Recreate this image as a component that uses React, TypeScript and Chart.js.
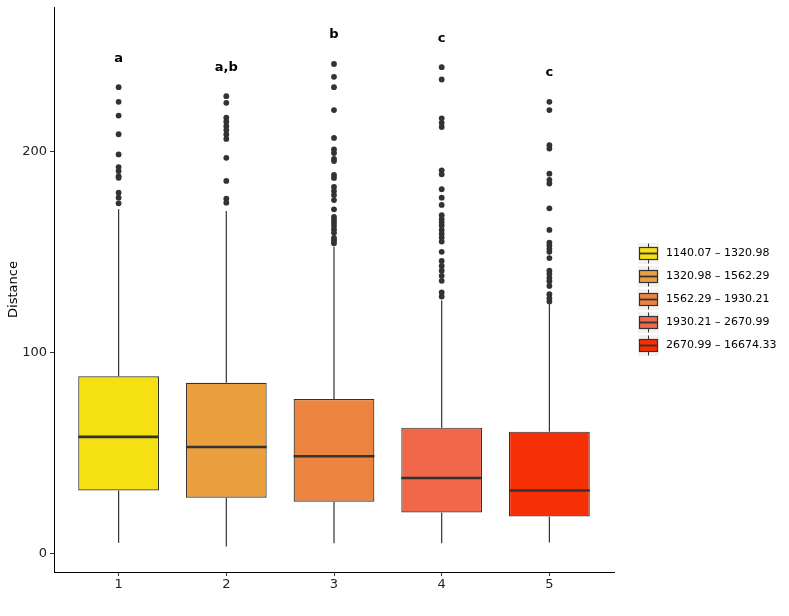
import { useEffect, useRef } from "react"
import { Chart, type ChartConfiguration, type Plugin, registerables } from "chart.js"

Chart.register(...registerables)

const groups = [1, 2, 3, 4, 5]
const q1 = [31.5, 27.9, 25.9, 20.6, 18.6]
const medians = [58.1, 53.1, 48.5, 37.7, 31.5]
const q3 = [88.2, 85.0, 76.9, 62.7, 60.7]
const whiskerLow = [5.5, 3.7, 5.3, 5.3, 5.7]
const whiskerHigh = [171.2, 170.3, 152.6, 125.8, 124.0]

const outliers1 = [231.8, 224.5, 217.7, 208.4, 198.4, 192.1, 190.1, 187.6, 186.8, 179.4, 176.9, 174.1]
const outliers2 = [227.3, 224.0, 216.6, 214.6, 212.4, 210.5, 208.3, 206.1, 196.7, 185.2, 176.4, 174.4]
const outliers3 = [
  243.3, 236.9, 231.8, 220.4, 206.6, 200.9, 199.1, 196.2, 195.1, 188.2, 186.7, 182.2, 180.2, 178.2, 175.7,
  171.1, 167.3, 165.8, 164.4, 162.9, 161.2, 159.5, 156.9, 155.8, 154.3,
]
const outliers4 = [
  241.7, 235.6, 216.3, 214.1, 212.0, 190.5, 188.5, 181.1, 176.9, 173.3, 168.2, 166.3, 164.8, 163.1, 160.9,
  158.9, 157.1, 155.1, 150.0, 145.5, 143.0, 140.6, 138.1, 135.6, 129.8, 127.8,
]
const outliers5 = [
  224.5, 220.4, 203.0, 201.3, 188.8, 185.7, 183.9, 171.6, 160.9, 154.6, 153.2, 151.5, 150.0, 146.9, 140.6,
  139.1, 137.1, 135.4, 133.1, 129.0, 127.0, 125.3,
]
const outliers = [outliers1, outliers2, outliers3, outliers4, outliers5]

const letters = ["a", "a,b", "b", "c", "c"]
const letterY = [246.2, 241.7, 258.1, 256.1, 239.2]

const legendLabels = [
  "1140.07 – 1320.98",
  "1320.98 – 1562.29",
  "1562.29 – 1930.21",
  "1930.21 – 2670.99",
  "2670.99 – 16674.33",
]
const boxColors = ["#F5E014", "#EB9F3E", "#EC843F", "#F1674A", "#F72F04"]

const yTicks = [0, 100, 200]
const FONT = "'DejaVu Sans', sans-serif"

const boxPlugin: Plugin = {
  id: "boxExtras",
  afterDatasetsDraw(chart) {
    const { ctx, scales } = chart
    const x = scales.x
    const y = scales.y
    const halfW = x.getPixelForValue(1.375) - x.getPixelForValue(1)
    ctx.save()
    groups.forEach((g, i) => {
      const cx = x.getPixelForValue(g)
      // whiskers
      ctx.strokeStyle = "#333333"
      ctx.lineWidth = 1.2
      ctx.beginPath()
      ctx.moveTo(cx, y.getPixelForValue(q3[i]))
      ctx.lineTo(cx, y.getPixelForValue(whiskerHigh[i]))
      ctx.moveTo(cx, y.getPixelForValue(q1[i]))
      ctx.lineTo(cx, y.getPixelForValue(whiskerLow[i]))
      ctx.stroke()

      // median
      ctx.lineWidth = 2.6
      ctx.beginPath()
      const my = y.getPixelForValue(medians[i])
      ctx.moveTo(cx - halfW, my)
      ctx.lineTo(cx + halfW, my)
      ctx.stroke()

      ctx.fillStyle = "#000000"
      ctx.font = `bold 13px ${FONT}`
      ctx.textAlign = "center"
      ctx.textBaseline = "middle"
      ctx.fillText(letters[i], cx, y.getPixelForValue(letterY[i]))
    })
    ctx.restore()
  },
  afterDraw(chart) {
    const { ctx } = chart
    const keyX = 638
    const firstY = 253.5
    const step = 23
    ctx.save()
    legendLabels.forEach((label, i) => {
      const cy = firstY + i * step
      ctx.fillStyle = "#F2F2F2"
      ctx.fillRect(keyX, cy - 10.5, 21, 21)
      ctx.strokeStyle = "#333333"
      ctx.lineWidth = 1
      ctx.beginPath()
      ctx.moveTo(keyX + 10.5, cy - 10)
      ctx.lineTo(keyX + 10.5, cy + 10)
      ctx.stroke()
      ctx.fillStyle = boxColors[i]
      ctx.fillRect(keyX + 1.5, cy - 6, 18, 12)
      ctx.lineWidth = 1.2
      ctx.strokeRect(keyX + 1.5, cy - 6, 18, 12)
      ctx.lineWidth = 1.8
      ctx.beginPath()
      ctx.moveTo(keyX + 1.5, cy)
      ctx.lineTo(keyX + 19.5, cy)
      ctx.stroke()
      ctx.fillStyle = "#000000"
      ctx.font = `11px ${FONT}`
      ctx.textAlign = "left"
      ctx.textBaseline = "middle"
      ctx.fillText(label, 666, cy)
    })
    ctx.restore()
  },
}

export default function App() {
  const chartRef = useRef<HTMLCanvasElement>(null)
  const chartInstance = useRef<Chart | null>(null)

  useEffect(() => {
    if (!chartRef.current) return
    const ctx = chartRef.current.getContext("2d")
    if (!ctx) return
    if (chartInstance.current) chartInstance.current.destroy()

    const outlierPoints = outliers.flatMap((vals, i) => vals.map((v) => ({ x: groups[i], y: v })))

    const config: ChartConfiguration = {
      type: "bar",
      data: {
        datasets: [
          {
            type: "scatter",
            data: outlierPoints,
            pointRadius: 2.9,
            pointBackgroundColor: "#333333",
            pointBorderWidth: 0,
            order: 0,
          } as any,
          {
            type: "bar",
            data: groups.map((g, i) => ({ x: g, y: [q1[i], q3[i]] })),
            backgroundColor: boxColors,
            borderColor: "#333333",
            borderWidth: 1.2,
            borderSkipped: false,
            barPercentage: 0.75,
            categoryPercentage: 1,
            order: 1,
          } as any,
        ],
      },
      options: {
        responsive: true,
        maintainAspectRatio: false,
        animation: false,
        layout: { padding: { top: 7, right: 175, left: 0, bottom: 0 } },
        plugins: {
          legend: { display: false },
          tooltip: { enabled: false },
        },
        scales: {
          x: {
            type: "linear",
            min: 0.4,
            max: 5.6,
            offset: false,
            afterBuildTicks: (scale) => {
              scale.ticks = groups.map((v) => ({ value: v }))
            },
            afterFit: (scale: any) => {
              scale.height = 44
              scale.paddingLeft = 0
              scale.paddingRight = 0
            },
            grid: { display: true, drawOnChartArea: false, offset: false, tickLength: 4, color: "#333333" },
            border: { display: true, color: "#000000", width: 1 },
            ticks: { color: "#222222", font: { family: FONT, size: 13 }, padding: 1, maxRotation: 0 },
          },
          y: {
            type: "linear",
            min: -9.0,
            max: 271.6,
            afterBuildTicks: (scale) => {
              scale.ticks = yTicks.map((v) => ({ value: v }))
            },
            afterFit: (scale: any) => {
              scale.width = 54
              scale.paddingTop = 0
              scale.paddingBottom = 0
            },
            grid: { display: true, drawOnChartArea: false, tickLength: 4, color: "#333333" },
            border: { display: true, color: "#000000", width: 1 },
            ticks: { color: "#222222", font: { family: FONT, size: 13 }, padding: 3 },
            title: {
              display: true,
              text: "Distance",
              color: "#000000",
              font: { family: FONT, size: 13 },
              padding: { top: 6, bottom: 0 },
            },
          },
        },
      },
      plugins: [boxPlugin],
    }

    chartInstance.current = new Chart(ctx, config)

    return () => {
      if (chartInstance.current) {
        chartInstance.current.destroy()
        chartInstance.current = null
      }
    }
  }, [])

  return (
    <div style={{ position: "fixed", left: 0, top: 0, width: 789, height: 616, background: "#ffffff" }}>
      <canvas ref={chartRef} />
    </div>
  )
}
